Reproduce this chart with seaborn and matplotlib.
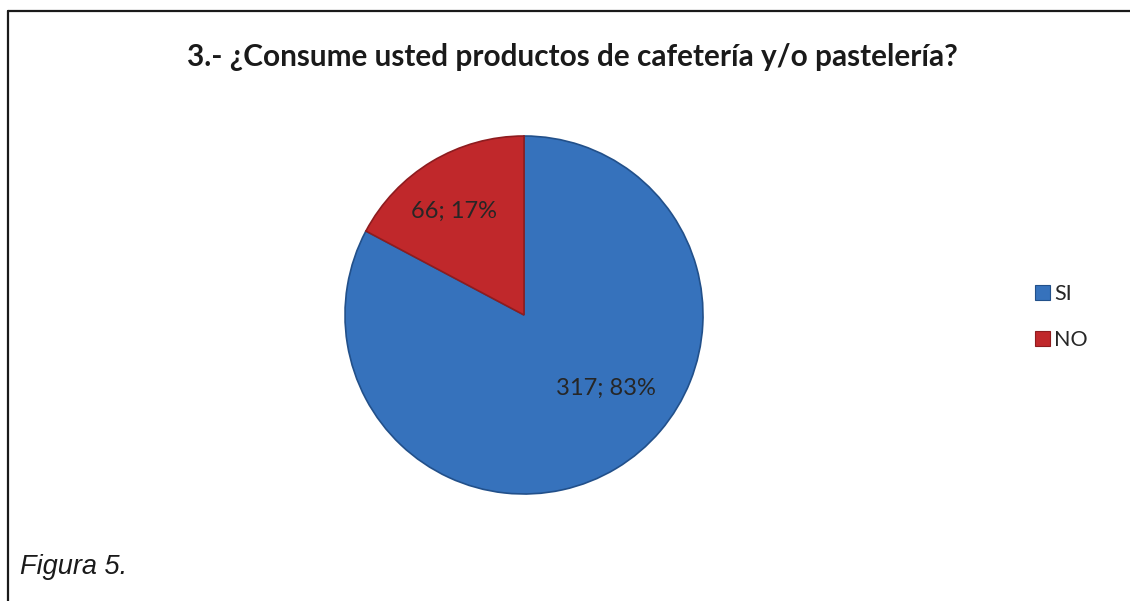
import matplotlib
matplotlib.use("Agg")
import matplotlib.pyplot as plt
from matplotlib.lines import Line2D
from matplotlib.patches import Rectangle
import seaborn as sns

# Survey answers
categories = ["SI", "NO"]
counts = [317, 66]

title = "3.- ¿Consume usted productos de cafetería y/o pastelería?"
caption = "Figura 5."

sns.set_theme(style="white")
plt.rcParams["font.family"] = ["Lato", "DejaVu Sans"]

colors = sns.color_palette(["#3672BC", "#C0282B"])
edge_colors = ["#22508A", "#8E1C1F"]

W, H = 1130, 601
fig = plt.figure(figsize=(W / 100, H / 100), dpi=100)
fig.patch.set_facecolor("white")

# Pie placement in pixels
cx, cy, r = 524, 315, 179
ax = fig.add_axes([(cx - r) / W, (H - cy - r) / H, 2 * r / W, 2 * r / H])

total = sum(counts)
wedges, _ = ax.pie(
    counts,
    colors=colors,
    startangle=90,
    counterclock=False,
    radius=1.0,
    wedgeprops=dict(linewidth=1.2),
)
for w, ec in zip(wedges, edge_colors):
    w.set_edgecolor(ec)

# Data labels: "value; percent"
label_pos = [(0.46, -0.41), (-0.39, 0.58)]
for (lx, ly), v in zip(label_pos, counts):
    ax.text(lx, ly, f"{v}; {round(100 * v / total)}%", ha="center", va="center",
            fontsize=17, color="#262626")

ax.set_xlim(-1, 1)
ax.set_ylim(-1, 1)
ax.set_aspect("equal")
ax.axis("off")

# Title
fig.text(572 / W, 1 - 57 / H, title, ha="center", va="center",
         fontsize=21.4, fontweight="bold", color="#1a1a1a")

# Legend
leg_handles = [Rectangle((0, 0), 1, 1, facecolor=c, edgecolor=ec, linewidth=0.8)
               for c, ec in zip(colors, edge_colors)]
fig.legend(leg_handles, categories, loc="upper left",
           bbox_to_anchor=(1024 / W, 1 - 273 / H), frameon=False,
           fontsize=15.5, handlelength=0.7, handleheight=0.7,
           handletextpad=0.2, labelspacing=1.2, borderpad=0)

# Caption
fig.text(20 / W, 1 - 567 / H, caption, ha="left", va="center",
         fontsize=19.5, fontstyle="italic", family=["Liberation Sans"], color="#1a1a1a")

# Frame lines (top and left)
fig.add_artist(Line2D([8 / W, 1.0], [1 - 11 / H, 1 - 11 / H], color="#1a1a1a",
                      linewidth=1.6, transform=fig.transFigure))
fig.add_artist(Line2D([8 / W, 8 / W], [1 - 11 / H, 0.0], color="#1a1a1a",
                      linewidth=1.6, transform=fig.transFigure))

fig.savefig("out.png", dpi=100, facecolor="white")
